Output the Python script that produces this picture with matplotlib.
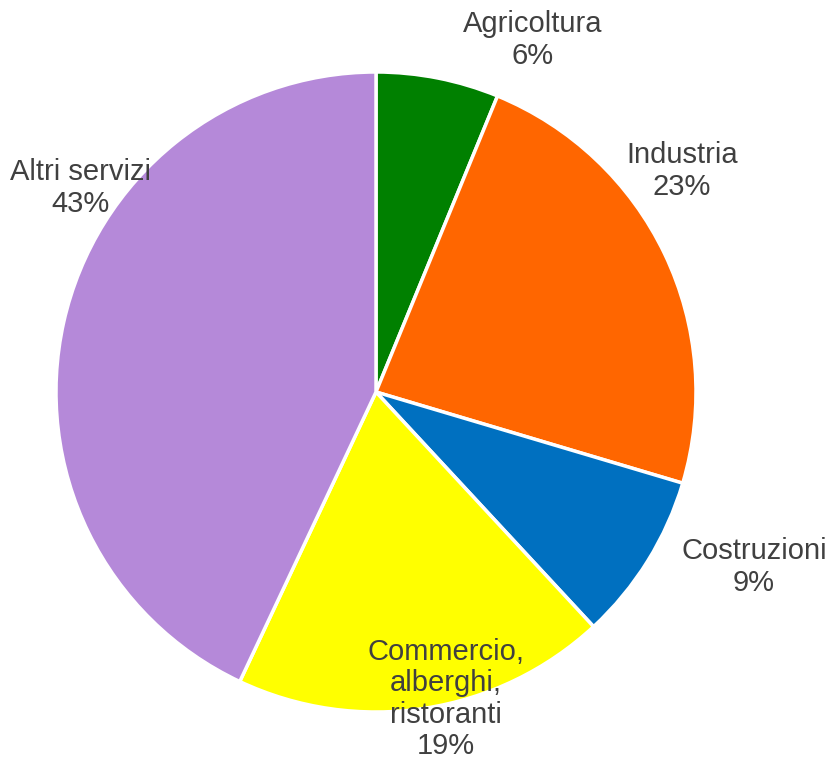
"""Occupati per settore: pie chart, clockwise from the top."""

import matplotlib

matplotlib.use("Agg")
import matplotlib.pyplot as plt  # noqa: E402

SECTORS = ["Agricoltura", "Industria", "Costruzioni", "Commercio,\nalberghi,\nristoranti", "Altri servizi"]
SHARES = [6.2, 23.4, 8.5, 18.9, 43.0]
PCT_LABELS = ["6%", "23%", "9%", "19%", "43%"]
COLORS = ["#008000", "#FF6600", "#0070C0", "#FFFF00", "#B589D9"]

W, H = 830, 761
# label block centres in pixel coordinates (x, y from top)
LABEL_POS = [(533, 40), (682, 171), (754, 567), (446, 699), (80, 188)]

fig = plt.figure(figsize=(W / 100, H / 100), dpi=100)
ax = fig.add_axes([0, 0, 1, 1])

ax.pie(
    SHARES,
    colors=COLORS,
    startangle=90,
    counterclock=False,
    center=(376, H - 392),
    radius=320,
    wedgeprops=dict(edgecolor="white", linewidth=2.5),
    frame=True,
)
ax.set_xlim(0, W)
ax.set_ylim(0, H)
ax.set_aspect("equal")
ax.axis("off")

for name, pct, (x, y) in zip(SECTORS, PCT_LABELS, LABEL_POS):
    ax.text(
        x, H - y, f"{name}\n{pct}",
        ha="center", va="center", multialignment="center",
        fontsize=21, color="#404040", family=["Liberation Sans", "DejaVu Sans"],
        linespacing=1.14,
    )

fig.savefig("out.png", dpi=100)
